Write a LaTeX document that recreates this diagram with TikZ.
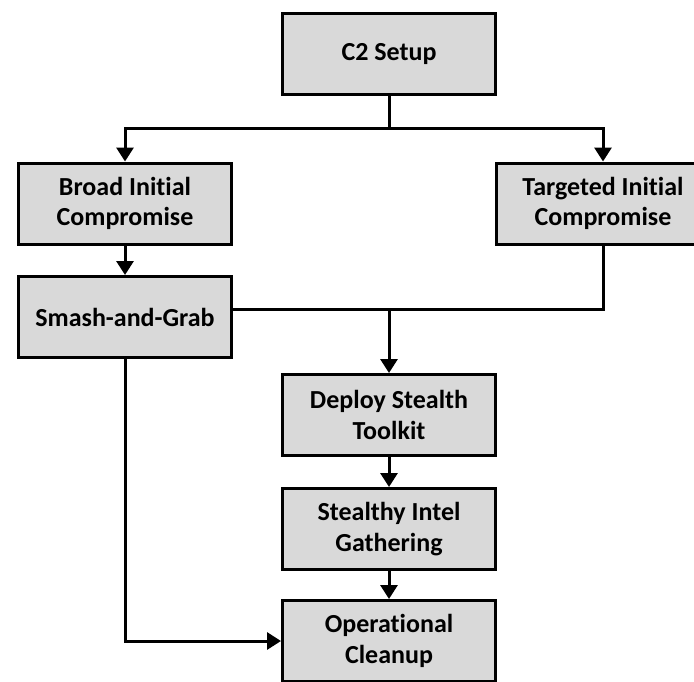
\documentclass[tikz,border=0pt]{standalone}
\usepackage{fontspec}
\setmainfont{Carlito}[RawFeature=-liga]
\usetikzlibrary{arrows.meta}
\definecolor{boxgray}{HTML}{D9D9D9}
\tikzset{
  stepbox/.style={draw=black, line width=3pt, fill=boxgray, minimum width=213pt,
    minimum height=81pt, inner sep=0pt, align=center,
    font=\fontsize{26}{30.5}\selectfont\bfseries},
  link/.style={line width=3pt, line join=miter},
  arrowlink/.style={link, -{Triangle[width=17pt,length=14pt]}}
}
\begin{document}
\begin{tikzpicture}[x=1pt,y=-1pt]
\useasboundingbox (0,0) rectangle (694,681);
\node[stepbox] (c2) at (389,54) {\raisebox{-2pt}{C2 Setup}};
\node[stepbox] (broad) at (125,203.5) {Broad Initial\\Compromise};
\node[stepbox] (targeted) at (603,203.5) {Targeted Initial\\Compromise};
\node[stepbox] (smash) at (125,317) {\raisebox{-2pt}{Smash-and-Grab}};
\node[stepbox] (deploy) at (389,415) {Deploy Stealth\\Toolkit};
\node[stepbox] (intel) at (389,529) {Stealthy Intel\\Gathering};
\node[stepbox] (cleanup) at (389,641) {Operational\\Cleanup};
\coordinate (split) at (389,128);
\coordinate (merge) at (389,309);
\draw[link] (c2.south) -- (split);
\draw[arrowlink] (split) -| (broad.north);
\draw[arrowlink] (split) -| (targeted.north);
\draw[arrowlink] (broad.south) -- (smash.north);
\draw[link] (smash.east |- merge) -- (merge -| targeted.south) -- (targeted.south);
\draw[arrowlink] (merge) -- (deploy.north);
\draw[arrowlink] (deploy.south) -- (intel.north);
\draw[arrowlink] (intel.south) -- (cleanup.north);
\draw[arrowlink] (smash.south) |- (cleanup.west);
\end{tikzpicture}
\end{document}
